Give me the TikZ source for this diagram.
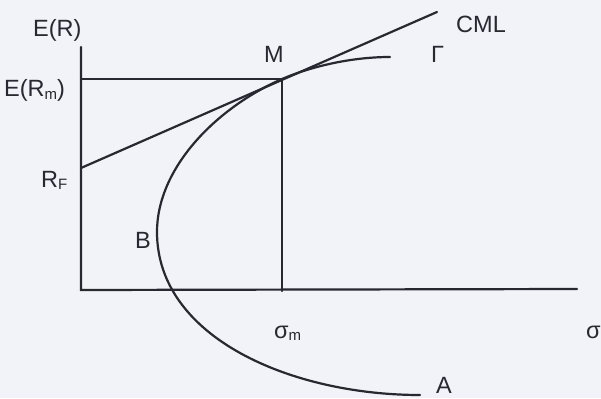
\documentclass[tikz,border=0pt]{standalone}
\usepackage{fontspec}
\setmainfont{Liberation Sans}
\definecolor{ink}{RGB}{40,40,48}
\definecolor{bg}{RGB}{241,243,249}
\newcommand{\sbs}[1]{\raisebox{-2.5pt}{\fontsize{15}{15}\selectfont #1}}
\begin{document}
\begin{tikzpicture}[x=1pt,y=-1pt,
  ln/.style={line width=2.2pt, draw=ink, line cap=round},
  lbl/.style={text=ink, inner sep=0pt, font=\fontsize{23.5}{26}\selectfont, anchor=base west}]
\fill[bg] (0,0) rectangle (601,398);
\useasboundingbox (0,0) rectangle (601,398);
% key points
\coordinate (top) at (81,47);
\coordinate (O) at (81,290);
\coordinate (xend) at (577,289);
\coordinate (RF) at (81,168);
\coordinate (Em) at (81,79);
\coordinate (M) at (282,79);
\coordinate (sm) at (282,291);
\coordinate (cmlend) at (437,12);
\coordinate (Gend) at (390,57);
\coordinate (Bv) at (157,232);
\coordinate (Aend) at (420,395);
% axes
\draw[ln] (top) -- (O) -- (xend);
% guide lines
\draw[ln] (Em) -- (M) -- (sm);
% capital market line
\draw[ln] (RF) -- (cmlend);
% efficient frontier
\draw[ln] (Gend) .. controls (350,57) and (310,67) .. (M)
  .. controls (216,108) and (157,168) .. (Bv)
  .. controls (157,338) and (292,395) .. (Aend);
% labels
\node[lbl] (lER) at (33,37) {E(R)};
\node[lbl] (lERm) at (4,97) {E(R\sbs{m})};
\node[lbl] (lRF) at (41,187) {R\sbs{F}};
\node[lbl] (lM) at (264,63) {M};
\node[lbl] (lG) at (431,63) {Γ};
\node[lbl] (lCML) at (456,33) {CML};
\node[lbl] (lB) at (135,248) {B};
\node[lbl] (lsm) at (274,338) {σ\sbs{m}};
\node[lbl] (ls) at (586,338) {σ};
\node[lbl] (lA) at (436,393) {A};
\end{tikzpicture}
\end{document}
